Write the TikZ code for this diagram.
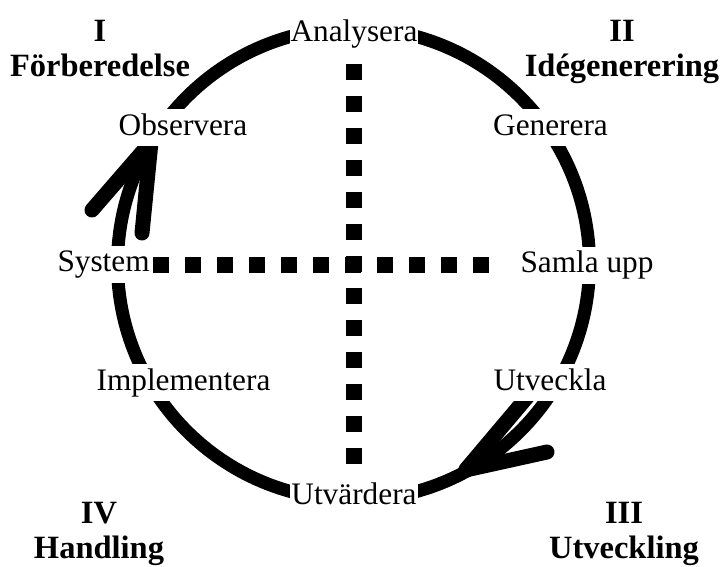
\documentclass[tikz,border=0pt]{standalone}
\usepackage{fontspec}
\setmainfont{Liberation Serif}
\begin{document}
\begin{tikzpicture}[x=1pt,y=-1pt,
  ring/.style={line width=13pt},
  barb/.style={line width=15pt, line cap=round, line join=round},
  dots/.style={line width=16pt, dash pattern=on 16pt off 16pt},
  stage/.style={fill=white, inner xsep=1pt, inner ysep=4pt,
    text height=22pt, text depth=7pt, anchor=base,
    font=\fontsize{31.3}{36}\selectfont},
  phase/.style={anchor=base, inner sep=0pt,
    font=\fontsize{32.5}{36}\selectfont\bfseries}
]
\useasboundingbox (0,0) rectangle (720,566);

% the cycle
\coordinate (c) at (353.5,264);
\draw[ring] (c) circle[radius=236];

% arrowhead on the way up to "Observera"
\coordinate (tipA) at (151,142);
\coordinate (barbA1) at (92,210);
\coordinate (barbA2) at (142,233);
\draw[barb] (barbA1) -- (tipA) -- (barbA2);

% arrowhead on the way down to "Utvärdera"
\coordinate (tipB) at (465.5,470);
\coordinate (barbB1) at (528,396);
\coordinate (barbB2) at (547,452);
\draw[barb] (barbB1) -- (tipB) -- (barbB2);

% quadrant dividers
\coordinate (vtop) at (353.5,64);
\coordinate (vbot) at (353.5,464);
\coordinate (hleft) at (153,265);
\coordinate (hright) at (489,265);
\draw[dots] (vtop) -- (vbot);
\draw[dots] (hleft) -- (hright);

% steps around the cycle
\node[stage] (ana) at (354,41.7) {Analysera};
\node[stage] (obs) at (183,135) {Observera};
\node[stage] (gen) at (550.5,135) {Generera};
\node[stage] (sys) at (103.6,271.5) {System};
\node[stage] (sam) at (587,272.5) {Samla upp};
\node[stage] (imp) at (183.5,390) {Implementera};
\node[stage] (utv) at (550,390) {Utveckla};
\node[stage] (utd) at (354,504) {Utvärdera};

% phase titles
\node[phase] (p1n) at (100,41.7) {I};
\node[phase] (p1t) at (100,76.7) {Förberedelse};
\node[phase] (p2n) at (622,41.7) {II};
\node[phase] (p2t) at (622,76.7) {Idégenerering};
\node[phase] (p4n) at (99,523.3) {IV};
\node[phase] (p4t) at (99,558.3) {Handling};
\node[phase] (p3n) at (624,523.3) {III};
\node[phase] (p3t) at (624,558.3) {Utveckling};
\end{tikzpicture}
\end{document}
